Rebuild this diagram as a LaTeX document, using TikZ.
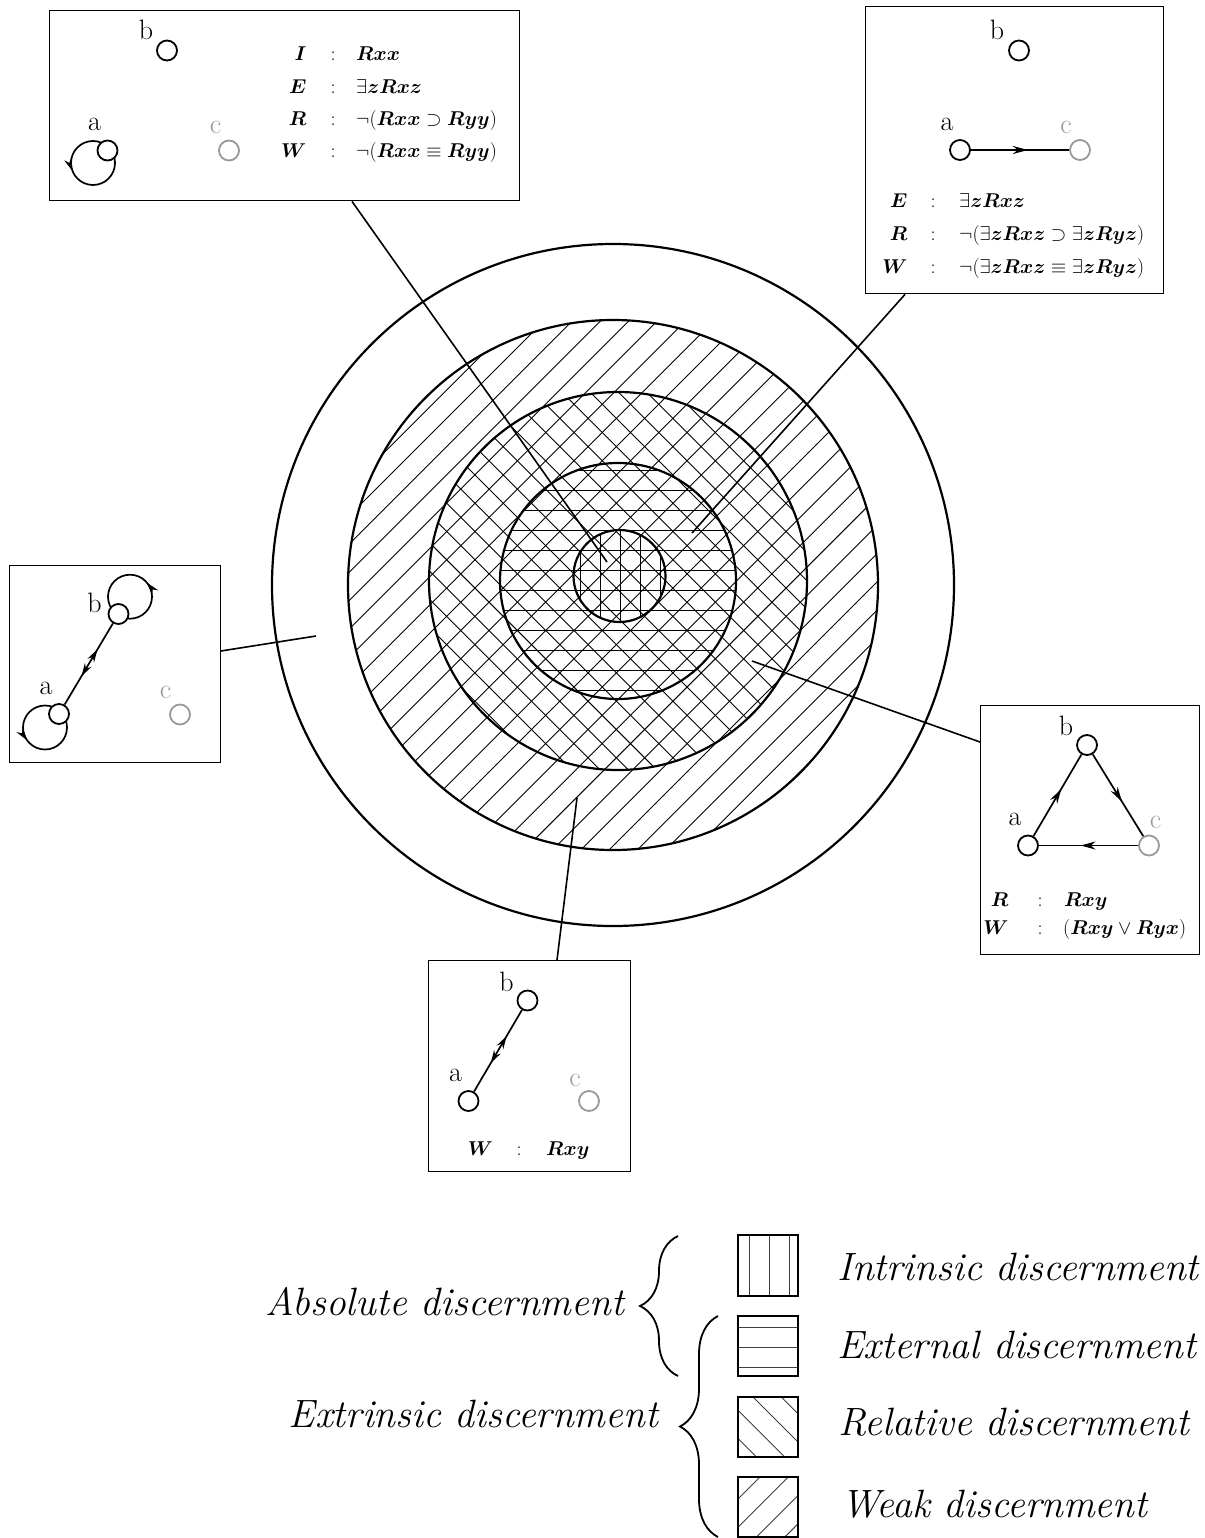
\RequirePackage{fix-cm}
\documentclass[tikz,border=0pt]{standalone}
\usepackage{bm}
\usetikzlibrary{arrows.meta,decorations.markings,decorations.pathreplacing}
\pgfdeclarelayer{bg}
\pgfsetlayers{bg,main}
\newcommand\frmrow[7]{%
  \node[fml, anchor=base east] (#1l) at (#3,#2) {$#6$};
  \node[fml, anchor=base] (#1c) at (#4,#2) {$:$};
  \node[fml, anchor=base west] (#1f) at (#5,#2) {$#7$};}
\begin{document}
\begin{tikzpicture}[x=1pt,y=-1pt,
  vtx/.style={circle, draw, line width=1.8pt, minimum size=20pt, inner sep=0pt, fill=white},
  gvtx/.style={vtx, draw=black!40},
  lbl/.style={font=\fontsize{28}{32}\selectfont, inner sep=0pt, anchor=base},
  glbl/.style={lbl, text=black!40},
  fml/.style={font=\fontsize{20}{24}\selectfont, inner sep=0pt},
  leg/.style={font=\fontsize{39.5}{46}\selectfont\itshape, inner sep=0pt},
  frame/.style={draw, line width=1.4pt, anchor=north west, inner sep=0pt},
  link/.style={line width=1.6pt},
  ring/.style={line width=2.2pt},
  hatch/.style={line width=0.9pt},
  lhatch/.style={line width=0.9pt, draw=black!75},
  edg/.style={line width=1.7pt},
  fwd/.style={postaction={decorate}, decoration={markings, mark=at position #1 with {\arrow{Stealth[length=15pt,width=8pt]}}}},
  bid/.style={postaction={decorate}, decoration={markings, mark=at position 0.35 with {\arrowreversed{Stealth[length=13pt,width=7.5pt]}}, mark=at position 0.68 with {\arrow{Stealth[length=13pt,width=7.5pt]}}}},
  loopr/.style={postaction={decorate}, decoration={markings, mark=at position #1 with {\arrowreversed{Stealth[length=13pt,width=7.5pt]}}}},
  legbox/.style={draw, line width=2pt, minimum width=60pt, minimum height=60pt, inner sep=0pt},
  brc/.style={decorate, decoration={brace, amplitude=38pt}, line width=1.8pt},
]
\useasboundingbox (0,0) rectangle (1204,1538);

% ---------- hatching of the concentric discs ----------
\begin{scope}
  \clip (613,585) circle[radius=265];
  \foreach \k in {-2,...,26}{
    \pgfmathsetmacro\cc{865+28.284*\k}
    \draw[hatch] (300,\cc-300) -- (960,\cc-960);}
\end{scope}
\begin{scope}
  \clip (618,581) circle[radius=189];
  \foreach \k in {-9,...,11}{
    \pgfmathsetmacro\dd{28.284*\k}
    \draw[hatch] (300,300-\dd) -- (960,960-\dd);}
\end{scope}
\begin{scope}
  \clip (618,581) circle[radius=118];
  \foreach \y in {470,490,...,690}
    \draw[hatch] (480,\y) -- (760,\y);
\end{scope}
\begin{scope}
  \clip (619.5,576) circle[radius=46];
  \foreach \x in {580,600,...,660}
    \draw[hatch] (\x,520) -- (\x,630);
\end{scope}

% ---------- rings ----------
\draw[ring] (613,585) circle[radius=341];
\draw[ring] (613,585) circle[radius=265];
\draw[ring] (618,581) circle[radius=189];
\draw[ring] (618,581) circle[radius=118];
\draw[ring] (619.5,576) circle[radius=46];

% ---------- boxes ----------
\node[frame, minimum width=470pt, minimum height=190pt] (tlbox) at (49,10) {};
\node[frame, minimum width=298pt, minimum height=287pt] (trbox) at (865,6) {};
\node[frame, minimum width=211pt, minimum height=197pt] (lbox) at (8.5,565) {};
\node[frame, minimum width=219pt, minimum height=249pt] (rbox) at (980,705) {};
\node[frame, minimum width=202pt, minimum height=211pt] (bbox) at (428,960) {};

% ---------- connectors from boxes into the rings ----------
\coordinate (e1) at (607,562);
\coordinate (e2) at (692,533);
\coordinate (e3) at (316,636);
\coordinate (e4) at (752,661);
\coordinate (e5) at (577,798);
\draw[link] ([xshift=303pt]tlbox.south west) -- (e1);
\draw[link] ([xshift=40pt]trbox.south west) -- (e2);
\draw[link] ([yshift=-86pt]lbox.north east) -- (e3);
\draw[link] ([yshift=-37pt]rbox.north west) -- (e4);
\draw[link] ([xshift=129pt]bbox.north west) -- (e5);

% ---------- top-left box ----------
\node[vtx] (tla) at (107.5,150.5) {};
\node[vtx] (tlb) at (167,50.5) {};
\node[gvtx] (tlc) at (229,150.5) {};
\node[lbl] (tlla) at (94.5,131) {a};
\node[lbl] (tllb) at (146,40) {b};
\node[glbl] (tllc) at (215.5,134) {c};
\begin{pgfonlayer}{bg}
  \draw[edg, loopr=0.44] ([shift={(-14.5,12.5)}]tla.center) circle[radius=22];
\end{pgfonlayer}
\frmrow{tl1}{61}{306.5}{333}{356}{\bm{I}}{\bm{Rxx}}
\frmrow{tl2}{93.5}{306.5}{333}{356}{\bm{E}}{\exists\bm{zRxz}}
\frmrow{tl3}{126}{306.5}{333}{356}{\bm{R}}{\neg(\bm{Rxx}\supset\bm{Ryy})}
\frmrow{tl4}{158}{306.5}{333}{356}{\bm{W}}{\neg(\bm{Rxx}\equiv\bm{Ryy})}

% ---------- top-right box ----------
\node[vtx] (tra) at (960,150) {};
\node[vtx] (trb) at (1019,50.5) {};
\node[gvtx] (trc) at (1080,150) {};
\node[lbl] (trla) at (947,130.5) {a};
\node[lbl] (trlb) at (997,40) {b};
\node[glbl] (trlc) at (1066,134) {c};
\draw[edg, fwd=0.58] (tra) -- (trc);
\frmrow{tr1}{208}{907.5}{933}{959}{\bm{E}}{\exists\bm{zRxz}}
\frmrow{tr2}{240.5}{907.5}{933}{959}{\bm{R}}{\neg(\exists\bm{zRxz}\supset\exists\bm{zRyz})}
\frmrow{tr3}{273}{907.5}{933}{959}{\bm{W}}{\neg(\exists\bm{zRxz}\equiv\exists\bm{zRyz})}

% ---------- left box ----------
\node[vtx] (la) at (59,714) {};
\node[vtx] (lb) at (118.5,614) {};
\node[gvtx] (lc) at (180,714.5) {};
\node[lbl] (lla) at (46,694.5) {a};
\node[lbl] (llb) at (94.5,612) {b};
\node[glbl] (llc) at (165.5,698.5) {c};
\begin{pgfonlayer}{bg}
  \draw[edg, loopr=0.89] ([shift={(11.5,-17.3)}]lb.center) circle[radius=22];
  \draw[edg, loopr=0.40] ([shift={(-14,13.5)}]la.center) circle[radius=22];
\end{pgfonlayer}
\draw[edg, bid] (la) -- (lb);

% ---------- right box ----------
\node[vtx] (ra) at (1028,845.5) {};
\node[vtx] (rb) at (1087,745) {};
\node[gvtx] (rc) at (1149,845.5) {};
\node[lbl] (rla) at (1015,825) {a};
\node[lbl] (rlb) at (1066,735) {b};
\node[glbl] (rlc) at (1155.5,828) {c};
\draw[edg, fwd=0.58] (ra) -- (rb);
\draw[edg, fwd=0.58] (rb) -- (rc);
\draw[edg, fwd=0.58] (rc) -- (ra);
\frmrow{r1}{906}{1008.5}{1040}{1064}{\bm{R}}{\bm{Rxy}}
\frmrow{r2}{934}{1008.5}{1040}{1063}{\bm{W}}{(\bm{Rxy}\vee\bm{Ryx})}

% ---------- bottom box ----------
\node[vtx] (ba) at (468.5,1101) {};
\node[vtx] (bb) at (527.5,1000.5) {};
\node[gvtx] (bc) at (589,1101) {};
\node[lbl] (bla) at (455.5,1081) {a};
\node[lbl] (blb) at (506.5,991) {b};
\node[glbl] (blc) at (575,1086) {c};
\draw[edg, bid] (ba) -- (bb);
\frmrow{b1}{1155}{493}{519}{546}{\bm{W}}{\bm{Rxy}}

% ---------- legend ----------
\begin{scope}
  \clip (738,1235) rectangle (798,1296);
  \foreach \x in {749,769,789} \draw[lhatch] (\x,1230) -- (\x,1300);
\end{scope}
\begin{scope}
  \clip (738,1316) rectangle (798,1376);
  \foreach \y in {1327,1347,1367} \draw[lhatch] (730,\y) -- (806,\y);
\end{scope}
\begin{scope}
  \clip (738,1397) rectangle (798,1457);
  \foreach \k in {-3,...,1}{
    \pgfmathsetmacro\dd{-644+28.284*\k}
    \draw[lhatch] (700,700-\dd) -- (840,840-\dd);}
\end{scope}
\begin{scope}
  \clip (738,1477) rectangle (798,1537);
  \foreach \k in {-1,...,4}{
    \pgfmathsetmacro\cc{2237+28.284*\k}
    \draw[lhatch] (700,\cc-700) -- (840,\cc-840);}
\end{scope}
\node[legbox, minimum height=61pt] (lb1) at (768,1265.5) {};
\node[legbox] (lb2) at (768,1346) {};
\node[legbox] (lb3) at (768,1427) {};
\node[legbox] (lb4) at (768,1507) {};

\draw[brc] (678,1376) -- (678,1236);
\draw[brc] (718,1537) -- (718,1316);

\node[leg, anchor=base east] (absd) at (624,1315) {Absolute discernment};
\node[leg, anchor=base east] (extd) at (658,1427) {Extrinsic discernment};
\node[leg, anchor=base west] (t1) at (837,1280) {Intrinsic discernment};
\node[leg, anchor=base west] (t2) at (837,1358) {External discernment};
\node[leg, anchor=base west] (t3) at (838,1435) {Relative discernment};
\node[leg, anchor=base west] (t4) at (841,1517) {Weak discernment};
\end{tikzpicture}
\end{document}
